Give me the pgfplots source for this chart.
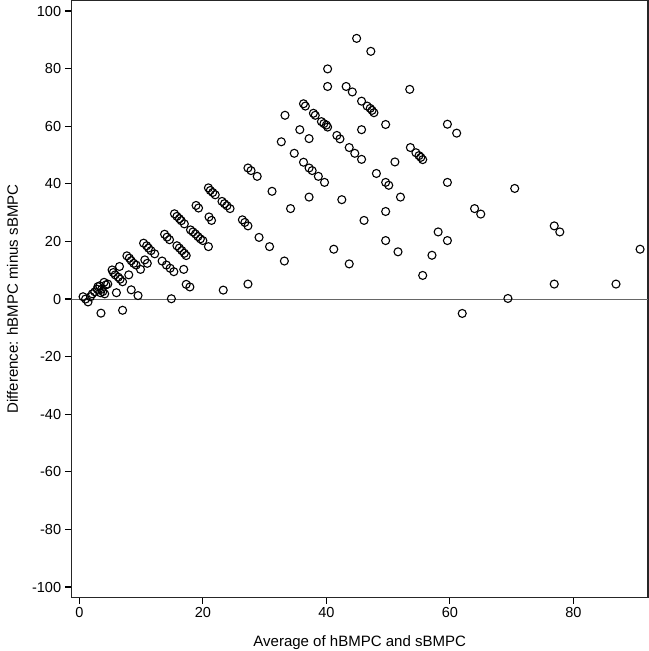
\documentclass[border=0pt]{standalone}
\usepackage{pgfplots}
\pgfplotsset{compat=1.18}
\usepackage{fontspec}
\setmainfont{Liberation Sans}
\pgfplotstableread{
x y
0.6 0.8
1.0 0
1.4 -1.0
1.8 0.8
2.1 1.8
2.5 2.5
2.9 3.4
3.0 4.3
3.3 4.6
3.6 3.4
3.4 2.2
3.8 2.6
4.0 5.8
4.3 4.9
4.6 5.2
3.5 -4.9
4.1 1.8
5.3 10.1
5.5 9.2
5.8 8.4
6.3 7.6
6.6 6.9
7.0 6.0
6.5 11.3
8.0 8.4
6.0 2.2
7.0 -3.9
8.4 3.2
9.5 1.2
7.7 15.0
8.1 14.2
8.4 13.3
8.8 12.4
9.2 11.8
9.9 10.3
10.6 13.6
11.0 12.4
10.4 19.4
10.9 18.5
11.2 17.7
11.6 16.8
12.2 15.7
13.4 13.2
14.1 11.8
14.7 10.7
15.3 9.5
16.9 10.3
14.9 0.1
17.3 5.1
17.9 4.2
13.8 22.5
14.2 21.5
14.6 20.6
15.8 18.5
16.2 17.7
16.6 16.8
17.0 15.9
17.3 15.1
15.4 29.6
15.8 28.7
16.2 27.9
16.5 27.2
17.0 26.1
18.0 24.0
18.4 23.3
18.8 22.6
19.2 21.7
19.6 20.9
20.0 20.3
20.9 18.2
18.9 32.5
19.3 31.6
21.0 28.5
21.4 27.3
20.9 38.6
21.2 37.7
21.6 37.0
22.0 36.2
23.1 33.9
23.5 33.1
23.9 32.4
24.4 31.4
23.3 3.1
27.3 5.2
26.4 27.5
26.8 26.6
27.3 25.4
29.1 21.4
30.8 18.2
33.2 13.2
27.3 45.5
27.8 44.6
28.8 42.6
31.2 37.4
34.2 31.4
37.2 35.4
42.5 34.5
41.2 17.3
43.7 12.2
32.7 54.6
34.8 50.6
33.3 63.8
36.3 67.8
36.6 67.0
37.9 64.5
38.2 63.8
39.2 61.6
39.6 60.9
40.0 60.4
40.2 59.7
35.7 58.8
37.2 55.7
36.3 47.5
37.2 45.5
37.7 44.6
38.7 42.6
39.7 40.5
41.7 56.8
42.2 55.6
43.7 52.6
44.6 50.6
45.7 48.5
40.2 79.9
40.2 73.8
43.2 73.8
44.2 71.9
44.9 90.5
47.2 86.0
45.7 68.7
46.6 67.0
47.1 66.2
47.4 65.5
47.7 64.7
45.7 58.8
49.6 60.6
48.1 43.6
49.6 40.5
50.1 39.5
51.1 47.6
46.1 27.3
49.6 30.4
52.0 35.4
49.6 20.3
51.6 16.4
55.6 8.2
53.5 72.8
53.6 52.6
54.5 50.8
55.0 49.8
55.3 49.2
55.6 48.4
59.6 60.7
61.1 57.6
59.6 40.5
57.1 15.2
58.1 23.3
59.6 20.3
64.0 31.4
65.0 29.5
62.0 -5.0
69.4 0.2
70.5 38.4
76.9 25.4
77.8 23.3
76.9 5.2
86.9 5.2
90.8 17.3
}\ptsdata
\begin{document}
\begin{tikzpicture}
\begin{axis}[
  scale only axis,
  width=576bp, height=596bp,
  xmin=-1.3, xmax=92.1,
  ymin=-103.6, ymax=103.6,
  xtick={0,20,40,60,80},
  ytick={-100,-80,...,100},
  tick align=outside,
  major tick length=6.5bp,
  tick style={black, line width=1.2bp},
  xtick pos=bottom, ytick pos=left,
  axis line style={line width=1.3bp, black!85},
  /pgf/number format/assume math mode=true,
  ticklabel style={font=\fontsize{14.5bp}{17bp}\selectfont, inner sep=3.5bp},
  xlabel={Average of hBMPC and sBMPC},
  ylabel={Difference: hBMPC minus sBMPC},
  xlabel style={font=\fontsize{15bp}{18bp}\selectfont, at={(axis description cs:0.5,0)}, anchor=north, inner sep=1bp, yshift=-37.3bp},
  ylabel style={font=\fontsize{15bp}{18bp}\selectfont, at={(axis description cs:-0.0799,0.5)}, rotate=0, anchor=south, inner xsep=0pt, inner ysep=7bp},
]
\addplot[gray!80!black, line width=1bp, forget plot] coordinates {(-1.3,0) (92.1,0)};
\addplot[only marks, mark=o, mark size=4bp, mark options={line width=1.1bp, black}] table[x=x,y=y] {\ptsdata};
\end{axis}
\end{tikzpicture}
\end{document}
